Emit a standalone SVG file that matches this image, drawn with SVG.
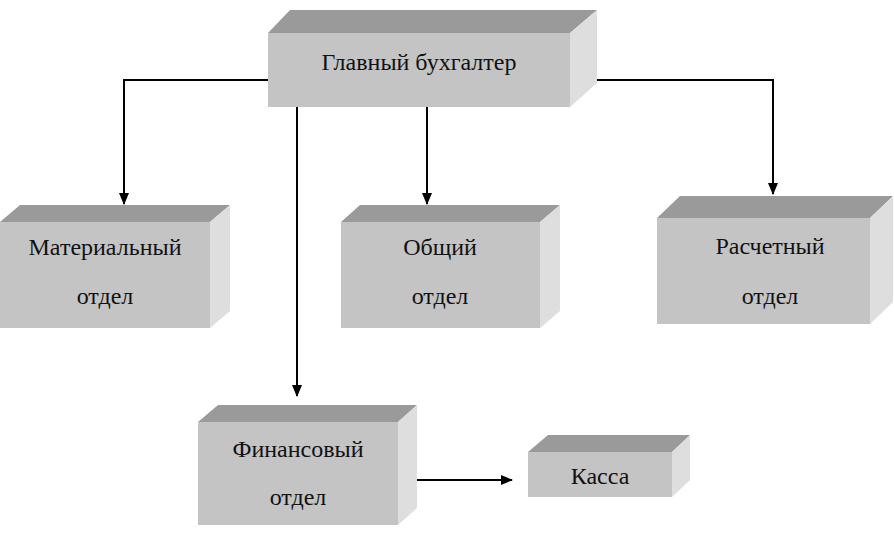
<svg xmlns="http://www.w3.org/2000/svg" width="894" height="534" viewBox="0 0 894 534">
<defs>
<marker id="ah" markerWidth="12" markerHeight="10" refX="11" refY="5" orient="auto" markerUnits="userSpaceOnUse"><path d="M0,0 L12,5 L0,10 z" fill="#000"/></marker>
<style>
.f{fill:#c4c4c4}.t{fill:#9a9a9a}.r{fill:#dedede}
text{font-family:"Liberation Serif","Times New Roman",serif;font-size:24px;fill:#111;text-anchor:middle}
.c{stroke:#000;stroke-width:2;fill:none}
</style>
</defs>
<rect width="894" height="534" fill="#fff"/>
<g id="connectors">
<path class="c" d="M268,80 H124 V204" marker-end="url(#ah)"/>
<path class="c" d="M570,80 H773 V194" marker-end="url(#ah)"/>
<path class="c" d="M297,107 V396" marker-end="url(#ah)"/>
<path class="c" d="M427,107 V204" marker-end="url(#ah)"/>
<path class="c" d="M398,480 H512" marker-end="url(#ah)"/>
</g>
<g id="n-main">
<polygon class="t" points="268,33 290,10 597,10 570,33"/>
<polygon class="r" points="570,33 597,10 597,83 570,107"/>
<rect class="f" x="268" y="33" width="302" height="74"/>
<text x="419" y="70">Главный бухгалтер</text>
</g>
<g id="n-mat">
<polygon class="t" points="0,222 20,205 230,205 210,222"/>
<polygon class="r" points="210,222 230,205 230,311 210,328"/>
<rect class="f" x="0" y="222" width="210" height="106"/>
<text x="105" y="255">Материальный</text>
<text x="105" y="304">отдел</text>
</g>
<g id="n-ob">
<polygon class="t" points="341,222 360,205 560,205 540,222"/>
<polygon class="r" points="540,222 560,205 560,311 540,328"/>
<rect class="f" x="341" y="222" width="199" height="106"/>
<text x="440" y="255">Общий</text>
<text x="440" y="304">отдел</text>
</g>
<g id="n-ras">
<polygon class="t" points="657,218 680,196 893,196 870,218"/>
<polygon class="r" points="870,218 893,196 893,302 870,324"/>
<rect class="f" x="657" y="218" width="213" height="106"/>
<text x="770" y="254">Расчетный</text>
<text x="770" y="304">отдел</text>
</g>
<g id="n-fin">
<polygon class="t" points="198,422 218,405 417,405 398,422"/>
<polygon class="r" points="398,422 417,405 417,508 398,525"/>
<rect class="f" x="198" y="422" width="200" height="103"/>
<text x="298" y="457">Финансовый</text>
<text x="298" y="505">отдел</text>
</g>
<g id="n-kassa">
<polygon class="t" points="528,452 548,435 690,435 672,452"/>
<polygon class="r" points="672,452 690,435 690,480 672,497"/>
<rect class="f" x="528" y="452" width="144" height="45"/>
<text x="600" y="484">Касса</text>
</g>
</svg>
